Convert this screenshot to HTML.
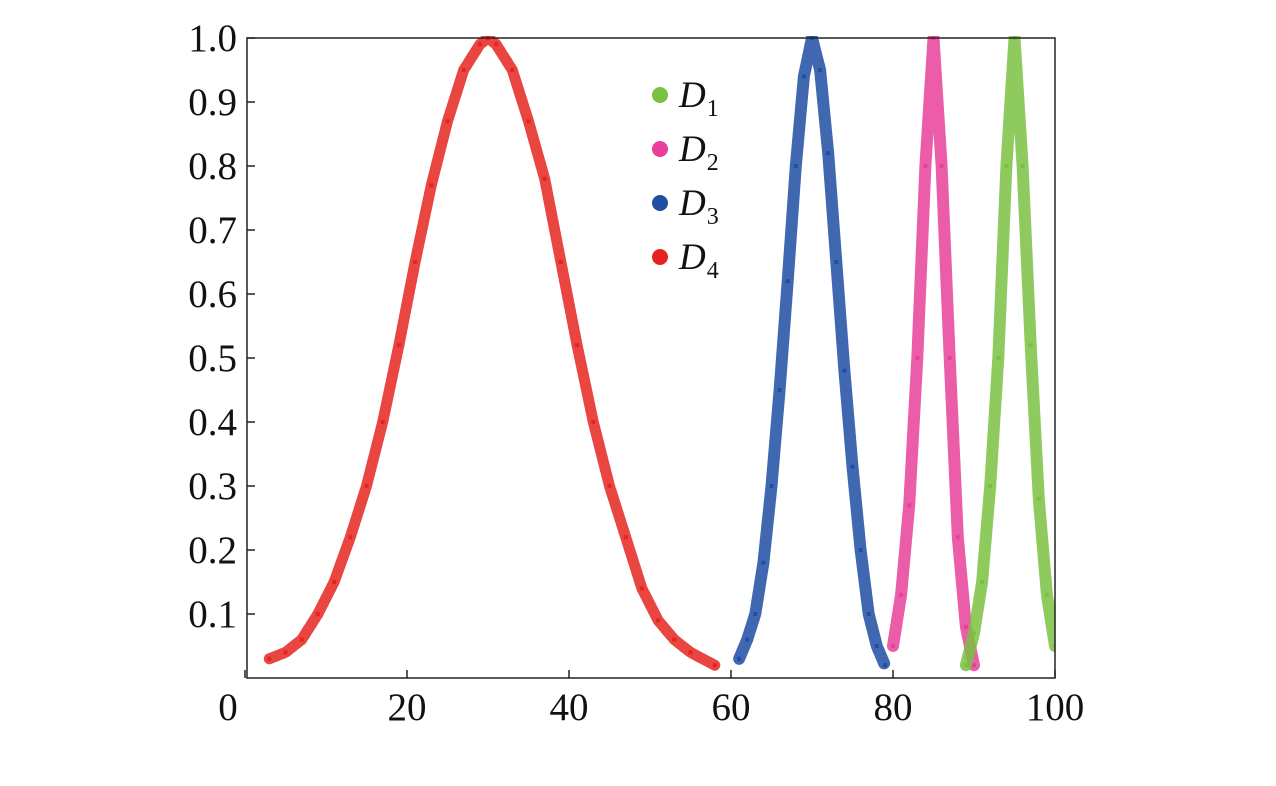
<!DOCTYPE html>
<html><head><meta charset="utf-8"><style>
html,body{margin:0;padding:0;background:#fff;}
svg{display:block;font-family:"Liberation Serif",serif;}
</style></head><body>
<svg id="chart" width="1276" height="786" viewBox="0 0 1276 786">
<defs><clipPath id="plotclip"><rect x="247" y="36" width="808" height="642"/></clipPath></defs>
<g id="series" clip-path="url(#plotclip)"></g>
<rect x="247" y="38" width="808" height="640" fill="none" stroke="#222" stroke-width="1.5"/>
<g id="yticks"></g>
<g id="xticks"></g>
<g id="legend"></g>
</svg>
<script>
const xTicks=[0,20,40,60,80,100];
const yTicks=[0.1,0.2,0.3,0.4,0.5,0.6,0.7,0.8,0.9,1.0];
const seriesNames=["1","2","3","4"];
const seriesColors=["#7ac142","#e8409a","#1f4ea3","#e52420"];
const d1x=[89,90,91,92,93,94,95,96,97,98,99,100];
const d1y=[0.02,0.07,0.15,0.3,0.5,0.8,1.0,0.8,0.52,0.28,0.13,0.05];
const d2x=[80,81,82,83,84,85,86,87,88,89,90];
const d2y=[0.05,0.13,0.27,0.5,0.8,1.0,0.8,0.5,0.22,0.08,0.02];
const d3x=[61,62,63,64,65,66,67,68,69,70,71,72,73,74,75,76,77,78,79];
const d3y=[0.03,0.06,0.1,0.18,0.3,0.45,0.62,0.8,0.94,1.0,0.95,0.82,0.65,0.48,0.33,0.2,0.1,0.05,0.02];
const d4x=[3,5,7,9,11,13,15,17,19,21,23,25,27,29,30,31,33,35,37,39,41,43,45,47,49,51,53,55,58];
const d4y=[0.03,0.04,0.06,0.1,0.15,0.22,0.3,0.4,0.52,0.65,0.77,0.87,0.95,0.99,1.0,0.99,0.95,0.87,0.78,0.65,0.52,0.4,0.3,0.22,0.14,0.09,0.06,0.04,0.02];
const NS="http://www.w3.org/2000/svg";
const X=v=>245+v*8.1;
const Y=v=>678-v*640;
function mk(t,a,p){const e=document.createElementNS(NS,t);for(const k in a)e.setAttribute(k,a[k]);p.appendChild(e);return e;}
const yg=document.getElementById('yticks');
yTicks.forEach(v=>{
  const t=mk('text',{x:237,y:Y(v)+13,'text-anchor':'end','font-size':39,fill:'#111'},yg);
  t.textContent=v.toFixed(1);
  
  
  const l=mk('line',{x1:247,x2:255,y1:Y(v),y2:Y(v),stroke:'#222','stroke-width':1.5},yg);
  
  
});
const xg=document.getElementById('xticks');
xTicks.forEach(v=>{
  const t=mk('text',{x:v===0?228:X(v),y:720,'text-anchor':'middle','font-size':39,fill:'#111'},xg);
  t.textContent=v;
  
  
  const l=mk('line',{x1:X(v),x2:X(v),y1:678,y2:670,stroke:'#222','stroke-width':1.5},xg);
  
  
});
const sg=document.getElementById('series');
const all=[[d4x,d4y,3],[d3x,d3y,2],[d2x,d2y,1],[d1x,d1y,0]];
all.forEach(([xs,ys,i])=>{
  const pts=xs.map((x,j)=>X(x)+','+Y(ys[j])).join(' ');
  const pl=mk('polyline',{points:pts,fill:'none',stroke:seriesColors[i],'stroke-width':i===3?11:12,'stroke-linejoin':'round','stroke-linecap':'round','stroke-dasharray':'4 2',opacity:0.85},sg);
  
  
  xs.forEach((x,j)=>{
    const r=mk('rect',{x:X(x)-2,y:Y(ys[j])-2,width:4,height:4,fill:seriesColors[i]},sg);
    
    
  });
});
const lg=document.getElementById('legend');
seriesNames.forEach((n,i)=>{
  const cy=95+i*54;
  const c=mk('circle',{cx:660,cy:cy,r:8,fill:seriesColors[i]},lg);
  
  
  const t=mk('text',{x:679,y:cy+12,'font-size':37,fill:'#111','font-style':'italic'},lg);
  t.textContent='D';
  
  
  const s=mk('tspan',{'font-size':24,'font-style':'normal',dy:9,dx:1},t);
  s.textContent=n;
});
</script>
</body></html>
